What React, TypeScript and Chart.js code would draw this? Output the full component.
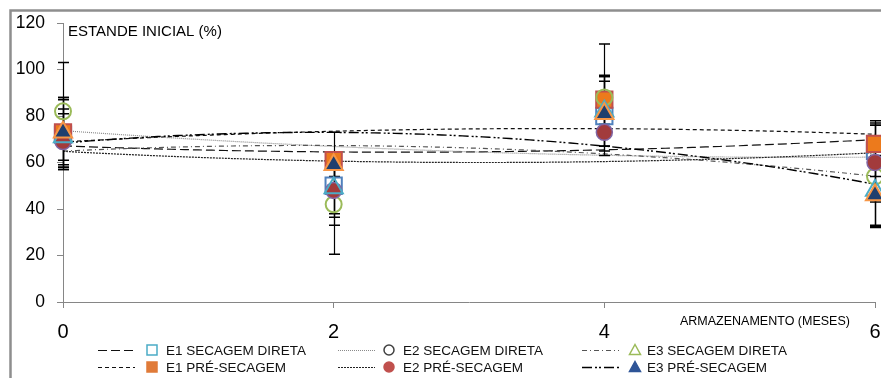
import React, { useEffect, useRef } from "react";
import { Chart, registerables } from "chart.js";

Chart.register(...registerables);

// ---------- DATA ----------
const MONTHS = [0, 2, 4, 6];
const X_TICKS = [0, 2, 4, 6];
const Y_TICKS = [0, 20, 40, 60, 80, 100, 120];
const Y_TITLE = "ESTANDE INICIAL (%)";
const X_TITLE = "ARMAZENAMENTO (MESES)";

const E1_SD = [72, 50, 80, 65];
const E1_SD_ERR = [15, 12, 17, 11];
const E1_PS = [73, 61, 87, 68];
const E1_PS_ERR = [15, 12, 10.5, 10];
const E2_SD = [82, 42, 88, 54];
const E2_SD_ERR = [21, 21.5, 23, 22];
const E2_PS = [69, 48, 73, 60];
const E2_PS_ERR = [12, 15, 6, 17];
const E3_SD = [71, 49, 82, 48];
const E3_SD_ERR = [12, 12.5, 15, 15];
const E3_PS = [73, 59, 81, 46];
const E3_PS_ERR = [15, 5, 14, 13.6];

const LABELS = [
  "E1 SECAGEM DIRETA",
  "E1 PRÉ-SECAGEM",
  "E2 SECAGEM DIRETA",
  "E2 PRÉ-SECAGEM",
  "E3 SECAGEM DIRETA",
  "E3 PRÉ-SECAGEM",
];
const VALUES = [E1_SD, E1_PS, E2_SD, E2_PS, E3_SD, E3_PS];
const ERRORS = [E1_SD_ERR, E1_PS_ERR, E2_SD_ERR, E2_PS_ERR, E3_SD_ERR, E3_PS_ERR];

// ---------- STYLES ----------
const MARKERS = [
  { style: "rect", radius: 11.5, border: "#4f81bd", fill: "rgba(0,0,0,0)", bw: 2 },
  { style: "rect", radius: 11.5, border: "#c0504d", fill: "#ec7a1c", bw: 2 },
  { style: "circle", radius: 8, border: "#9bbb59", fill: "rgba(0,0,0,0)", bw: 2 },
  { style: "circle", radius: 8, border: "#8064a2", fill: "#a23b3c", bw: 1.5 },
  { style: "triangle", radius: 10.5, border: "#4bacc6", fill: "rgba(0,0,0,0)", bw: 2 },
  { style: "triangle", radius: 10.5, border: "#f79646", fill: "#1f3f6e", bw: 2 },
];
const TREND = [
  { dash: [9, 4], color: "#111", width: 1.2 },
  { dash: [4, 3], color: "#111", width: 1.2 },
  { dash: [1, 1], color: "#8a8a8a", width: 1.2 },
  { dash: [2, 1], color: "#222", width: 1.2 },
  { dash: [5, 3, 1, 3], color: "#555", width: 1.2 },
  { dash: [10, 3, 2, 2, 2, 3], color: "#000", width: 1.4 },
];
const LEGEND_MARK = [
  { shape: "square", stroke: "#4bacc6", fill: null },
  { shape: "square", stroke: "#e07b39", fill: "#e07b39" },
  { shape: "circle", stroke: "#404040", fill: null },
  { shape: "circle", stroke: "#c0504d", fill: "#c0504d" },
  { shape: "triangle", stroke: "#9bbb59", fill: null },
  { shape: "triangle", stroke: "#2e5597", fill: "#2e5597" },
];

const FONT = '"Liberation Sans", Arial, sans-serif';

function polyfit2(xs: number[], ys: number[]) {
  let n = 0, sx = 0, sx2 = 0, sx3 = 0, sx4 = 0, sy = 0, sxy = 0, sx2y = 0;
  for (let i = 0; i < xs.length; i++) {
    const x = xs[i], y = ys[i];
    n++; sx += x; sx2 += x * x; sx3 += x * x * x; sx4 += x * x * x * x;
    sy += y; sxy += x * y; sx2y += x * x * y;
  }
  const det3 = (m: number[][]) =>
    m[0][0] * (m[1][1] * m[2][2] - m[1][2] * m[2][1]) -
    m[0][1] * (m[1][0] * m[2][2] - m[1][2] * m[2][0]) +
    m[0][2] * (m[1][0] * m[2][1] - m[1][1] * m[2][0]);
  const A = [[n, sx, sx2], [sx, sx2, sx3], [sx2, sx3, sx4]];
  const B = [sy, sxy, sx2y];
  const D = det3(A);
  const res: number[] = [];
  for (let k = 0; k < 3; k++) {
    const M = A.map((row, r) => row.map((v, c) => (c === k ? B[r] : v)));
    res.push(det3(M) / D);
  }
  return res;
}

const framePlugin = {
  id: "frame",
  beforeDraw(chart: any) {
    const ctx = chart.ctx;
    ctx.save();
    ctx.fillStyle = "#fff";
    ctx.fillRect(0, 0, chart.width, chart.height);
    ctx.strokeStyle = "#8e8e8e";
    ctx.lineWidth = 2.5;
    ctx.beginPath();
    ctx.moveTo(10.5, chart.height);
    ctx.lineTo(10.5, 10.5);
    ctx.lineTo(chart.width, 10.5);
    ctx.stroke();
    ctx.restore();
  },
};

const trendErrPlugin = {
  id: "trendErr",
  beforeDatasetsDraw(chart: any) {
    const ctx = chart.ctx;
    const xs = chart.scales.x;
    const ys = chart.scales.y;
    ctx.save();
    // trendlines (2nd order polynomial fit of each series)
    VALUES.forEach((vals, s) => {
      const [c0, c1, c2] = polyfit2(MONTHS, vals);
      const t = TREND[s];
      ctx.strokeStyle = t.color;
      ctx.lineWidth = t.width;
      ctx.setLineDash(t.dash);
      ctx.beginPath();
      const x0 = MONTHS[0], x1 = MONTHS[MONTHS.length - 1];
      for (let i = 0; i <= 120; i++) {
        const x = x0 + ((x1 - x0) * i) / 120;
        const y = c0 + c1 * x + c2 * x * x;
        const px = xs.getPixelForValue(x);
        const py = ys.getPixelForValue(y);
        if (i === 0) ctx.moveTo(px, py);
        else ctx.lineTo(px, py);
      }
      ctx.stroke();
    });
    ctx.setLineDash([]);
    // error bars
    ctx.strokeStyle = "#000";
    VALUES.forEach((vals, s) => {
      vals.forEach((v, i) => {
        const e = ERRORS[s][i];
        const px = Math.round(xs.getPixelForValue(MONTHS[i])) + 0.5;
        const pt = ys.getPixelForValue(v + e);
        const pb = ys.getPixelForValue(v - e);
        ctx.lineWidth = 1.2;
        ctx.beginPath();
        ctx.moveTo(px, pt);
        ctx.lineTo(px, pb);
        ctx.stroke();
        ctx.lineWidth = 1.5;
        ctx.beginPath();
        ctx.moveTo(px - 5.5, pt);
        ctx.lineTo(px + 5.5, pt);
        ctx.moveTo(px - 5.5, pb);
        ctx.lineTo(px + 5.5, pb);
        ctx.stroke();
      });
    });
    ctx.restore();
  },
};

const COL_LINE_X = [98, 338, 582];
const COL_MARK_X = [152, 389, 635];
const COL_TEXT_X = [166, 403, 647];
const ROW_Y = [350, 367];

const legendPlugin = {
  id: "customLegend",
  afterDraw(chart: any) {
    const ctx = chart.ctx;
    ctx.save();
    ctx.fillStyle = "#fff";
    ctx.fillRect(90, 338, 715, 40);
    // titles
    ctx.fillStyle = "#000";
    ctx.textBaseline = "middle";
    ctx.font = `15px ${FONT}`;
    ctx.fillText(Y_TITLE, 68, 32);
    ctx.font = `12.5px ${FONT}`;
    ctx.fillText(X_TITLE, 680, 322);
    // legend entries
    LABELS.forEach((lab, s) => {
      const col = Math.floor(s / 2);
      const row = s % 2;
      const y = ROW_Y[row];
      const t = TREND[s];
      ctx.strokeStyle = t.color;
      ctx.lineWidth = t.width;
      ctx.setLineDash(t.dash);
      ctx.beginPath();
      ctx.moveTo(COL_LINE_X[col], y + 0.5);
      ctx.lineTo(COL_LINE_X[col] + 37, y + 0.5);
      ctx.stroke();
      ctx.setLineDash([]);
      const m = LEGEND_MARK[s];
      const cx = COL_MARK_X[col];
      ctx.lineWidth = 1.5;
      ctx.strokeStyle = m.stroke;
      ctx.beginPath();
      if (m.shape === "square") ctx.rect(cx - 5, y - 5, 10, 10);
      else if (m.shape === "circle") ctx.arc(cx, y, 5, 0, Math.PI * 2);
      else {
        ctx.moveTo(cx, y - 5.5);
        ctx.lineTo(cx + 5.5, y + 4.5);
        ctx.lineTo(cx - 5.5, y + 4.5);
        ctx.closePath();
      }
      if (m.fill) {
        ctx.fillStyle = m.fill;
        ctx.fill();
      }
      ctx.stroke();
      ctx.fillStyle = "#111";
      ctx.font = `13.5px ${FONT}`;
      ctx.textBaseline = "middle";
      ctx.fillText(lab, COL_TEXT_X[col], y + 1);
    });
    ctx.restore();
  },
};

export default function App() {
  const ref = useRef<HTMLCanvasElement>(null);

  useEffect(() => {
    document.body.style.margin = "0";
    const canvas = ref.current;
    if (!canvas) return;
    const datasets = VALUES.map((vals, s) => ({
      label: LABELS[s],
      data: MONTHS.map((m, i) => ({ x: m, y: vals[i] })),
      showLine: false,
      clip: false,
      pointStyle: MARKERS[s].style,
      pointRadius: MARKERS[s].radius,
      pointBorderColor: MARKERS[s].border,
      pointBackgroundColor: MARKERS[s].fill,
      pointBorderWidth: MARKERS[s].bw,
      order: VALUES.length - s,
    }));
    const chart = new Chart(canvas, {
      type: "scatter",
      data: { datasets },
      options: {
        animation: false,
        responsive: false,
        devicePixelRatio: 1,
        layout: { autoPadding: false, padding: { top: 23, right: 6, left: 0, bottom: 0 } },
        plugins: { legend: { display: false }, tooltip: { enabled: false } },
        scales: {
          x: {
            type: "linear",
            min: 0,
            max: 6,
            afterBuildTicks: (s: any) => {
              s.ticks = X_TICKS.map((v) => ({ value: v }));
            },
            afterFit: (s: any) => {
              s.height = 76;
              s.paddingLeft = 0;
              s.paddingRight = 0;
            },
            grid: { drawOnChartArea: false, drawTicks: true, tickLength: 6, color: "#868686" },
            border: { color: "#868686", width: 1 },
            ticks: { color: "#000", font: { family: FONT, size: 20 }, padding: 12, maxRotation: 0 },
          },
          y: {
            type: "linear",
            min: 0,
            max: 120,
            afterBuildTicks: (s: any) => {
              s.ticks = Y_TICKS.map((v) => ({ value: v }));
            },
            afterFit: (s: any) => {
              s.width = 63;
              s.paddingTop = 0;
              s.paddingBottom = 0;
            },
            grid: { drawOnChartArea: false, drawTicks: true, tickLength: 6, color: "#868686" },
            border: { color: "#868686", width: 1 },
            ticks: { color: "#000", font: { family: FONT, size: 17.5 }, padding: 12 },
          },
        },
      },
      plugins: [framePlugin, trendErrPlugin, legendPlugin],
    } as any);
    return () => chart.destroy();
  }, []);

  return (
    <div style={{ width: 881, height: 378 }}>
      <canvas ref={ref} width={881} height={378} style={{ width: 881, height: 378, display: "block" }} />
    </div>
  );
}
